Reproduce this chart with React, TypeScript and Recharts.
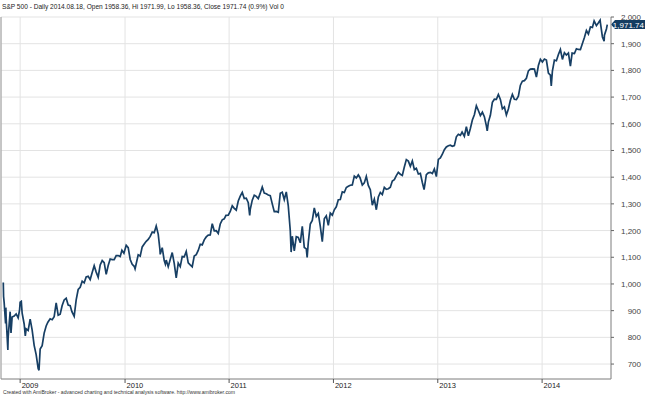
import { LineChart, Line, XAxis, YAxis, CartesianGrid, ReferenceLine } from "recharts";

const FONT = "Arial, 'Liberation Sans', sans-serif";

// weekly closes (plus a few daily extremes)
const dates2008 = ["2008-11-04", "2008-11-05", "2008-11-07", "2008-11-12", "2008-11-13", "2008-11-14", "2008-11-20", "2008-11-21", "2008-11-28", "2008-12-01", "2008-12-05", "2008-12-12", "2008-12-19", "2008-12-26", "2008-12-31"];
const close2008 = [1005.75, 952.77, 930.99, 852.3, 911.29, 873.29, 752.44, 800.03, 896.24, 816.21, 876.07, 879.73, 887.88, 872.8, 903.25];

const dates2009 = ["2009-01-02", "2009-01-06", "2009-01-09", "2009-01-16", "2009-01-20", "2009-01-23", "2009-01-30", "2009-02-06", "2009-02-13", "2009-02-20", "2009-02-27", "2009-03-06", "2009-03-09", "2009-03-13", "2009-03-20", "2009-03-27", "2009-04-03", "2009-04-09", "2009-04-17", "2009-04-24", "2009-05-01", "2009-05-08", "2009-05-15", "2009-05-22", "2009-05-29", "2009-06-05", "2009-06-12", "2009-06-19", "2009-06-26", "2009-07-02", "2009-07-10", "2009-07-17", "2009-07-24", "2009-07-31", "2009-08-07", "2009-08-14", "2009-08-21", "2009-08-28", "2009-09-04", "2009-09-11", "2009-09-18", "2009-09-25", "2009-10-02", "2009-10-09", "2009-10-16", "2009-10-23", "2009-10-30", "2009-11-06", "2009-11-13", "2009-11-20", "2009-11-27", "2009-12-04", "2009-12-11", "2009-12-18", "2009-12-24", "2009-12-31"];
const close2009 = [931.8, 934.7, 890.35, 850.12, 805.22, 831.95, 825.88, 868.6, 826.84, 770.05, 735.09, 683.38, 676.53, 756.55, 768.54, 815.94, 842.5, 856.56, 869.6, 866.23, 877.52, 929.23, 882.88, 887.0, 919.14, 940.09, 946.21, 921.23, 918.9, 896.42, 879.13, 940.38, 979.26, 987.48, 1010.48, 1004.09, 1026.13, 1028.93, 1016.4, 1042.73, 1068.3, 1044.38, 1025.21, 1071.49, 1087.68, 1079.6, 1036.19, 1069.3, 1093.48, 1091.38, 1091.49, 1105.98, 1106.41, 1102.47, 1126.48, 1115.1];

const dates2010 = ["2010-01-08", "2010-01-15", "2010-01-22", "2010-01-29", "2010-02-05", "2010-02-08", "2010-02-12", "2010-02-19", "2010-02-26", "2010-03-05", "2010-03-12", "2010-03-19", "2010-03-26", "2010-04-02", "2010-04-09", "2010-04-16", "2010-04-23", "2010-04-30", "2010-05-06", "2010-05-07", "2010-05-14", "2010-05-21", "2010-05-25", "2010-05-28", "2010-06-04", "2010-06-11", "2010-06-18", "2010-06-25", "2010-07-02", "2010-07-09", "2010-07-16", "2010-07-23", "2010-07-30", "2010-08-06", "2010-08-13", "2010-08-20", "2010-08-27", "2010-09-03", "2010-09-10", "2010-09-17", "2010-09-24", "2010-10-01", "2010-10-08", "2010-10-15", "2010-10-22", "2010-10-29", "2010-11-05", "2010-11-12", "2010-11-19", "2010-11-26", "2010-12-03", "2010-12-10", "2010-12-17", "2010-12-23", "2010-12-31"];
const close2010 = [1144.98, 1136.03, 1091.76, 1073.87, 1066.19, 1056.74, 1075.51, 1109.17, 1104.49, 1138.7, 1149.99, 1159.9, 1166.59, 1178.1, 1194.37, 1192.13, 1217.28, 1186.69, 1128.15, 1110.88, 1135.68, 1087.69, 1074.03, 1089.41, 1064.88, 1091.6, 1117.51, 1076.76, 1022.58, 1077.96, 1064.88, 1102.66, 1101.6, 1121.64, 1079.25, 1071.69, 1064.59, 1104.51, 1109.55, 1125.59, 1148.67, 1146.24, 1165.15, 1176.19, 1183.08, 1183.26, 1225.85, 1199.21, 1199.73, 1189.4, 1224.71, 1240.4, 1243.91, 1256.77, 1257.64];

const dates2011 = ["2011-01-07", "2011-01-14", "2011-01-21", "2011-01-28", "2011-02-04", "2011-02-11", "2011-02-18", "2011-02-25", "2011-03-04", "2011-03-11", "2011-03-16", "2011-03-18", "2011-03-25", "2011-04-01", "2011-04-08", "2011-04-15", "2011-04-21", "2011-04-29", "2011-05-06", "2011-05-13", "2011-05-20", "2011-05-27", "2011-06-03", "2011-06-10", "2011-06-17", "2011-06-24", "2011-07-01", "2011-07-08", "2011-07-15", "2011-07-22", "2011-07-29", "2011-08-05", "2011-08-08", "2011-08-12", "2011-08-19", "2011-08-26", "2011-09-02", "2011-09-09", "2011-09-16", "2011-09-23", "2011-09-30", "2011-10-03", "2011-10-07", "2011-10-14", "2011-10-21", "2011-10-28", "2011-11-04", "2011-11-11", "2011-11-18", "2011-11-25", "2011-12-02", "2011-12-09", "2011-12-16", "2011-12-23", "2011-12-30"];
const close2011 = [1271.5, 1293.24, 1283.35, 1276.34, 1310.87, 1329.15, 1343.01, 1319.88, 1321.15, 1304.28, 1256.88, 1279.21, 1313.8, 1332.41, 1328.17, 1319.68, 1337.38, 1363.61, 1340.2, 1337.77, 1333.27, 1331.1, 1300.16, 1270.98, 1271.5, 1268.45, 1339.67, 1343.8, 1316.14, 1345.02, 1292.28, 1199.38, 1119.46, 1178.81, 1123.53, 1176.8, 1173.97, 1154.23, 1216.01, 1136.43, 1131.42, 1099.23, 1155.46, 1224.58, 1238.25, 1285.09, 1253.23, 1263.85, 1215.65, 1158.67, 1244.28, 1255.19, 1219.66, 1265.33, 1257.6];

const dates2012 = ["2012-01-06", "2012-01-13", "2012-01-20", "2012-01-27", "2012-02-03", "2012-02-10", "2012-02-17", "2012-02-24", "2012-03-02", "2012-03-09", "2012-03-16", "2012-03-23", "2012-03-30", "2012-04-05", "2012-04-13", "2012-04-20", "2012-04-27", "2012-05-04", "2012-05-11", "2012-05-18", "2012-05-25", "2012-06-01", "2012-06-08", "2012-06-15", "2012-06-22", "2012-06-29", "2012-07-06", "2012-07-13", "2012-07-20", "2012-07-27", "2012-08-03", "2012-08-10", "2012-08-17", "2012-08-24", "2012-08-31", "2012-09-07", "2012-09-14", "2012-09-21", "2012-09-28", "2012-10-05", "2012-10-12", "2012-10-19", "2012-10-26", "2012-11-02", "2012-11-09", "2012-11-15", "2012-11-16", "2012-11-23", "2012-11-30", "2012-12-07", "2012-12-14", "2012-12-21", "2012-12-28"];
const close2012 = [1277.81, 1289.09, 1315.38, 1316.33, 1344.9, 1342.64, 1361.23, 1365.74, 1369.63, 1370.87, 1404.17, 1397.11, 1408.47, 1398.08, 1370.26, 1378.53, 1403.36, 1369.1, 1353.39, 1295.22, 1317.82, 1278.04, 1325.66, 1342.84, 1335.02, 1362.16, 1354.68, 1356.78, 1362.66, 1385.97, 1390.99, 1405.87, 1418.16, 1411.13, 1406.58, 1437.92, 1465.77, 1460.15, 1440.67, 1460.93, 1428.59, 1433.19, 1411.94, 1414.2, 1379.85, 1353.33, 1359.88, 1409.15, 1416.18, 1418.07, 1413.58, 1430.15, 1402.43];

const dates2013 = ["2013-01-04", "2013-01-11", "2013-01-18", "2013-01-25", "2013-02-01", "2013-02-08", "2013-02-15", "2013-02-22", "2013-03-01", "2013-03-08", "2013-03-15", "2013-03-22", "2013-03-28", "2013-04-05", "2013-04-12", "2013-04-19", "2013-04-26", "2013-05-03", "2013-05-10", "2013-05-17", "2013-05-24", "2013-05-31", "2013-06-07", "2013-06-14", "2013-06-21", "2013-06-24", "2013-06-28", "2013-07-05", "2013-07-12", "2013-07-19", "2013-07-26", "2013-08-02", "2013-08-09", "2013-08-16", "2013-08-23", "2013-08-30", "2013-09-06", "2013-09-13", "2013-09-20", "2013-09-27", "2013-10-04", "2013-10-11", "2013-10-18", "2013-10-25", "2013-11-01", "2013-11-08", "2013-11-15", "2013-11-22", "2013-11-29", "2013-12-06", "2013-12-13", "2013-12-20", "2013-12-27"];
const close2013 = [1466.47, 1472.05, 1485.98, 1502.96, 1513.17, 1517.93, 1519.79, 1515.6, 1518.2, 1551.18, 1560.7, 1556.89, 1569.19, 1553.28, 1588.85, 1555.25, 1582.24, 1614.42, 1633.7, 1667.47, 1649.6, 1630.74, 1643.38, 1626.73, 1592.43, 1573.09, 1606.28, 1631.89, 1680.19, 1692.09, 1691.65, 1709.67, 1691.42, 1655.83, 1663.5, 1632.97, 1655.17, 1687.99, 1709.91, 1691.75, 1690.5, 1703.2, 1744.5, 1759.77, 1761.64, 1770.61, 1798.18, 1804.76, 1805.81, 1805.09, 1775.32, 1818.32, 1841.4];

const dates2014 = ["2014-01-03", "2014-01-10", "2014-01-17", "2014-01-24", "2014-01-31", "2014-02-03", "2014-02-07", "2014-02-14", "2014-02-21", "2014-02-28", "2014-03-07", "2014-03-14", "2014-03-21", "2014-03-28", "2014-04-04", "2014-04-11", "2014-04-17", "2014-04-25", "2014-05-02", "2014-05-09", "2014-05-16", "2014-05-23", "2014-05-30", "2014-06-06", "2014-06-13", "2014-06-20", "2014-06-27", "2014-07-03", "2014-07-11", "2014-07-18", "2014-07-24", "2014-07-25", "2014-08-01", "2014-08-07", "2014-08-08", "2014-08-15", "2014-08-18"];
const close2014 = [1831.37, 1842.37, 1838.7, 1790.29, 1782.59, 1741.89, 1797.02, 1838.63, 1836.25, 1859.45, 1878.04, 1841.13, 1866.52, 1857.62, 1865.09, 1815.69, 1864.85, 1863.4, 1881.14, 1878.48, 1877.86, 1900.53, 1923.57, 1949.44, 1936.16, 1962.87, 1960.96, 1985.44, 1967.57, 1978.22, 1987.98, 1978.34, 1925.15, 1909.57, 1931.59, 1955.06, 1971.74];

const yearStarts = ["2009-01-02", "2010-01-04", "2011-01-03", "2012-01-03", "2013-01-02", "2014-01-02"];
const yearLabels = ["2009", "2010", "2011", "2012", "2013", "2014"];
const priceTicks = [700, 800, 900, 1000, 1100, 1200, 1300, 1400, 1500, 1600, 1700, 1800, 1900, 2000];
const lastClose = 1971.74;

const title = "S&P 500 - Daily 2014.08.18, Open 1958.36, Hi 1971.99, Lo 1958.36, Close 1971.74 (0.9%) Vol 0";
const footer = "Created with AmiBroker - advanced charting and technical analysis software. http://www.amibroker.com";

const allDates = [...dates2008, ...dates2009, ...dates2010, ...dates2011, ...dates2012, ...dates2013, ...dates2014];
const allCloses = [...close2008, ...close2009, ...close2010, ...close2011, ...close2012, ...close2013, ...close2014];
const data = allDates.map((d, i) => ({ t: Date.parse(d), close: allCloses[i] }));

const xMin = Date.parse("2008-10-27");
const xMax = Date.parse("2014-08-31");
const xTicks = yearStarts.map((d) => Date.parse(d));

function YearTick(props: any) {
  const { x, y, index } = props;
  return (
    <g>
      <line x1={x} y1={y} x2={x} y2={y + 4} stroke="#555" />
      <text x={x + 1.5} y={y + 8.5} fontSize={7.5} fill="#222" fontFamily={FONT}>
        {yearLabels[index]}
      </text>
    </g>
  );
}

function PriceTick(props: any) {
  const { x, y, payload } = props;
  return (
    <text x={x + 27} y={y + 3} fontSize={8} fill="#444" textAnchor="end" fontFamily={FONT}>
      {payload.value.toLocaleString("en-US")}
    </text>
  );
}

function CloseTag(props: any) {
  const vb = props.viewBox || {};
  const x = vb.x + vb.width;
  const y = vb.y;
  return (
    <g>
      <polygon
        points={`${x},${y} ${x + 4},${y - 4.5} ${x + 34},${y - 4.5} ${x + 34},${y + 4.5} ${x + 4},${y + 4.5}`}
        fill="#133d62"
      />
      <text x={x + 33} y={y + 3} fontSize={8} fill="#fff" textAnchor="end" fontFamily={FONT}>
        {lastClose.toLocaleString("en-US", { minimumFractionDigits: 2 })}
      </text>
    </g>
  );
}

export default function App() {
  return (
    <div style={{ position: "absolute", left: 0, top: 0, width: 645, height: 395, background: "#fff" }}>
      <LineChart width={645} height={395} data={data} margin={{ top: 17, right: 0, bottom: 0, left: 1 }}>
        <CartesianGrid stroke="#e3e3e3" />
        <XAxis
          dataKey="t"
          type="number"
          domain={[xMin, xMax]}
          ticks={xTicks}
          allowDataOverflow
          height={16}
          tickSize={0}
          tickMargin={0}
          tickLine={false}
          axisLine={{ stroke: "#8a8a8a" }}
          tick={<YearTick />}
          interval={0}
        />
        <YAxis
          orientation="right"
          width={34}
          domain={[644, 2000]}
          ticks={priceTicks}
          allowDataOverflow
          tickSize={3}
          tickMargin={0}
          tickLine={{ stroke: "#666" }}
          axisLine={{ stroke: "#8a8a8a" }}
          tick={<PriceTick />}
          interval={0}
        />
        <ReferenceLine x={xMin} stroke="#9a9a9a" />
        <Line
          type="linear"
          dataKey="close"
          stroke="#173f64"
          strokeWidth={1.7}
          dot={false}
          isAnimationActive={false}
        />
        <ReferenceLine y={lastClose} stroke="none" label={(p: any) => <CloseTag {...p} />} />
      </LineChart>
      <svg width={645} height={395} style={{ position: "absolute", left: 0, top: 0, pointerEvents: "none" }}>
        <text x={2} y={8.5} fontSize={8} fill="#222" fontFamily={FONT} textLength={282} lengthAdjust="spacingAndGlyphs">
          {title}
        </text>
        <text x={3} y={393.5} fontSize={6} fill="#333" fontFamily={FONT} textLength={232} lengthAdjust="spacingAndGlyphs">
          {footer}
        </text>
      </svg>
    </div>
  );
}
